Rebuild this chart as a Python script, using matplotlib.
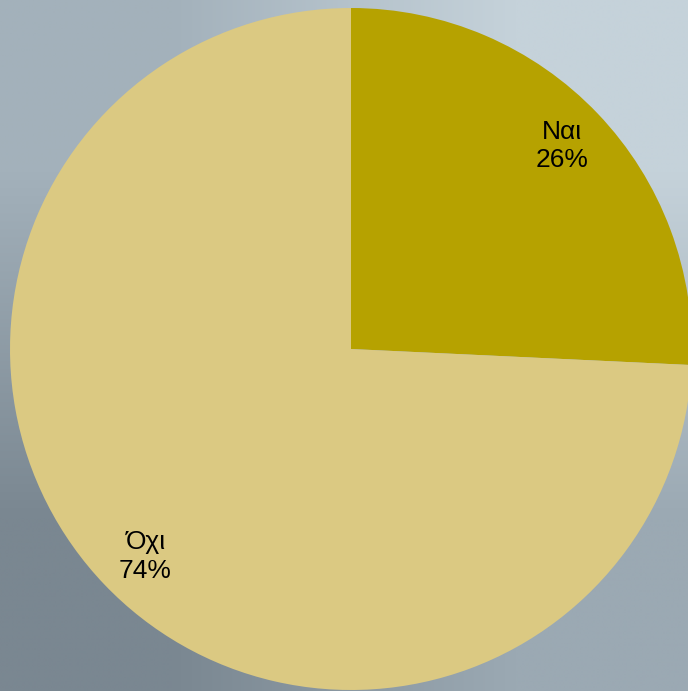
import numpy as np
import matplotlib.pyplot as plt

labels = ["Ναι", "Όχι"]
values = [25.75, 74.25]
colors = ["#b6a200", "#dbc982"]

plt.rcParams['font.family'] = ['Liberation Sans', 'DejaVu Sans']

fig = plt.figure(figsize=(6.88, 6.91), dpi=100)

# background gradient (top-left, top-right / bottom-left, bottom-right)
bg = fig.add_axes([0, 0, 1, 1], zorder=0)
corners = np.array([[[0xa3, 0xb1, 0xbb], [0xc5, 0xd2, 0xda]],
                    [[0x7a, 0x87, 0x91], [0x9b, 0xa9, 0xb3]]]) / 255
bg.imshow(corners, extent=[0, 1, 0, 1], interpolation='bilinear', aspect='auto')
bg.axis('off')

ax = fig.add_axes([0, 0, 1, 1], zorder=1)
ax.patch.set_alpha(0)
r = 341
texts = [f"{l}\n{round(v)}%" for l, v in zip(labels, values)]
wedges, lbls = ax.pie(values, labels=texts, colors=colors, startangle=90,
                      counterclock=False, labeldistance=0.86,
                      textprops=dict(fontsize=19, color='black', linespacing=1.25))
# label spots, nudged to where the original puts them
label_pos = [(0.618, 0.595), (-0.603, -0.609)]
for t, p in zip(lbls, label_pos):
    t.set_position(p)
    t.set_ha('center')
    t.set_va('center')
ax.set_xlim(-351 / r, (688 - 351) / r)
ax.set_ylim(-342 / r, 349 / r)
ax.set_aspect('auto')
ax.axis('off')

fig.savefig("out.png", dpi=100)
